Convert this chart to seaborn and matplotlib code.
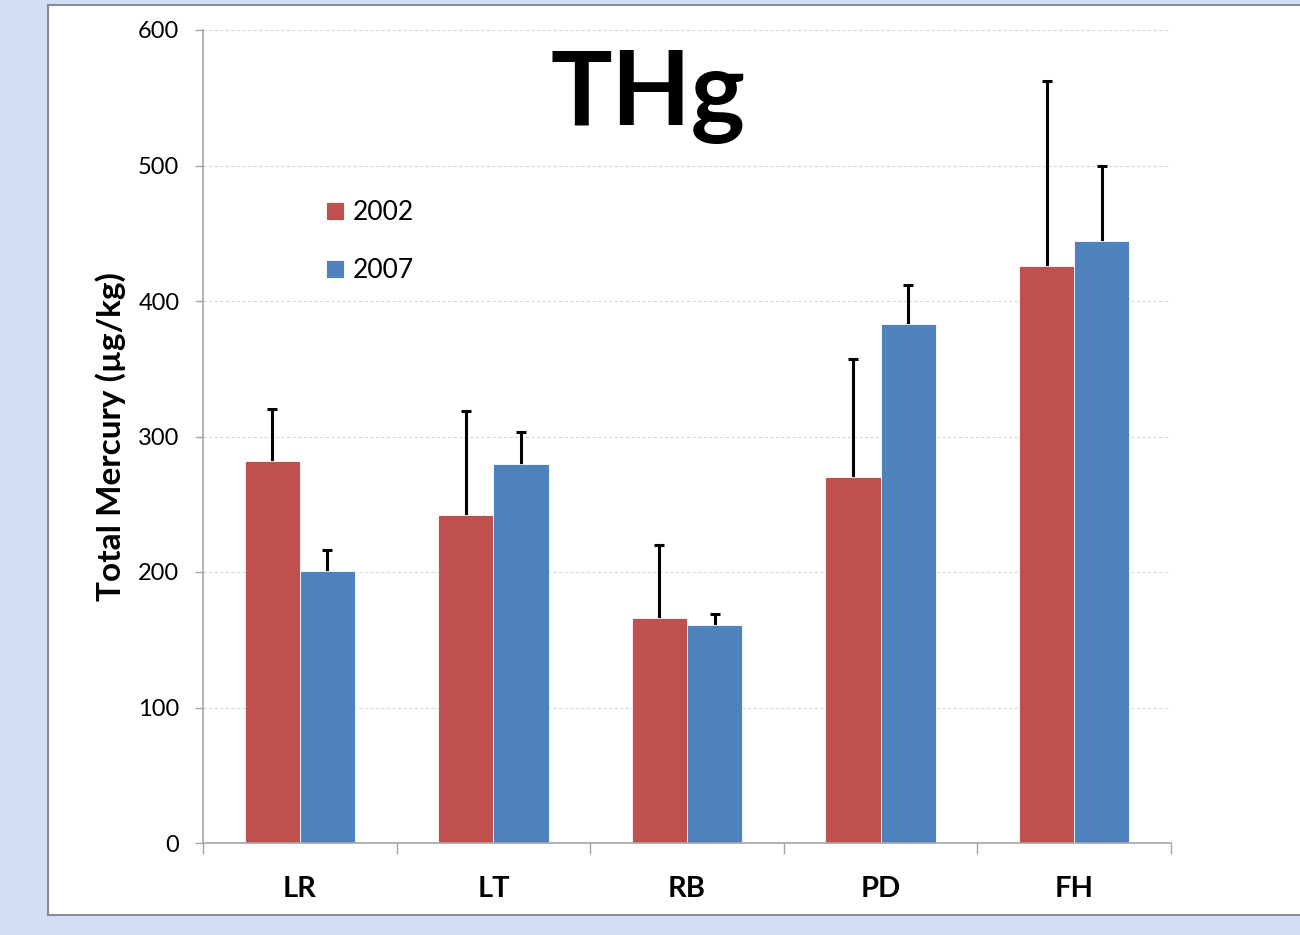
import numpy as np
import pandas as pd
import matplotlib
matplotlib.use('Agg')
import matplotlib.pyplot as plt
import seaborn as sns
from matplotlib.patches import Rectangle

# ==========================================
# 数据
# ==========================================
SITES = ['LR', 'LT', 'RB', 'PD', 'FH']
YEARS = ['2002', '2007']
THG_2002 = [282, 242, 166, 270, 426]
THG_2007 = [201, 280, 161, 383, 444]
ERR_2002 = [38, 77, 54, 87, 136]
ERR_2007 = [15, 23, 8, 29, 56]
COLORS = ['#C0504D', '#4F81BD']

df = pd.DataFrame({
    'site': SITES * 2,
    'year': [YEARS[0]] * 5 + [YEARS[1]] * 5,
    'thg': THG_2002 + THG_2007,
    'err': ERR_2002 + ERR_2007,
})

sns.set_style('white')
plt.rcParams['font.family'] = ['Lato', 'DejaVu Sans']
plt.rcParams['text.color'] = 'black'
plt.rcParams['axes.labelcolor'] = 'black'
plt.rcParams['xtick.color'] = 'black'
plt.rcParams['ytick.color'] = 'black'

fig = plt.figure(figsize=(13, 9.35), dpi=100)
fig.patch.set_facecolor('#D2DEF4')

# white panel behind the chart
panel = Rectangle((48 / 1300, 20 / 935), 1.2, 910 / 935, transform=fig.transFigure,
                  facecolor='white', edgecolor='#8C8C8C', linewidth=1.5, zorder=-10)
fig.patches.append(panel)

ax = fig.add_axes([203 / 1300, 1 - 843 / 935, 968 / 1300, 813 / 935])
ax.set_facecolor('none')

sns.barplot(data=df, x='site', y='thg', hue='year', palette=COLORS,
            width=0.57, gap=0, errorbar=None, edgecolor='white', linewidth=0.6,
            saturation=1, ax=ax, zorder=2)

# error bars drawn behind the bars so only the upper half shows
for bars, (_, sub) in zip(ax.containers, df.groupby('year', sort=False)):
    xs = [b.get_x() + b.get_width() / 2 for b in bars]
    ax.errorbar(xs, sub['thg'].values, yerr=sub['err'].values,
                fmt='none', ecolor='black', elinewidth=2.2, capsize=3.5, capthick=2.2, zorder=1.5)

ax.set_ylim(0, 600)
ax.set_xlim(-0.5, 4.5)
ax.set_yticks(range(0, 601, 100))
ax.yaxis.grid(True, linestyle=(0, (3, 2)), color='#D9D9D9', linewidth=0.8, zorder=0)
ax.set_axisbelow(True)

for s in ['top', 'right']:
    ax.spines[s].set_visible(False)
for s in ['left', 'bottom']:
    ax.spines[s].set_color('#A6A6A6')
    ax.spines[s].set_linewidth(1.2)

ax.tick_params(axis='y', which='major', direction='out', length=6, width=1, color='#A6A6A6',
               labelsize=17, pad=11, left=True)
# category boundary ticks on x
ax.set_xticks(np.arange(-0.5, 5, 1), minor=True)
ax.tick_params(axis='x', which='minor', direction='out', length=8, width=1, color='#A6A6A6',
               bottom=True)
ax.tick_params(axis='x', which='major', length=0, labelsize=21, pad=24)
for lbl in ax.get_xticklabels():
    lbl.set_fontweight('bold')

ax.set_xlabel('')
ax.set_ylabel('Total Mercury (µg/kg)', fontsize=24, fontweight='bold', labelpad=9)

ax.legend(loc='upper left', bbox_to_anchor=(0.103, 0.82), frameon=False, fontsize=19,
          handlelength=0.65, handleheight=0.65, handletextpad=0.35, labelspacing=1.25)

fig.text(648 / 1300, 1 - 97 / 935, 'THg', ha='center', va='center', fontsize=74,
         fontweight='bold')

fig.savefig('out.png', dpi=100, facecolor=fig.get_facecolor())
